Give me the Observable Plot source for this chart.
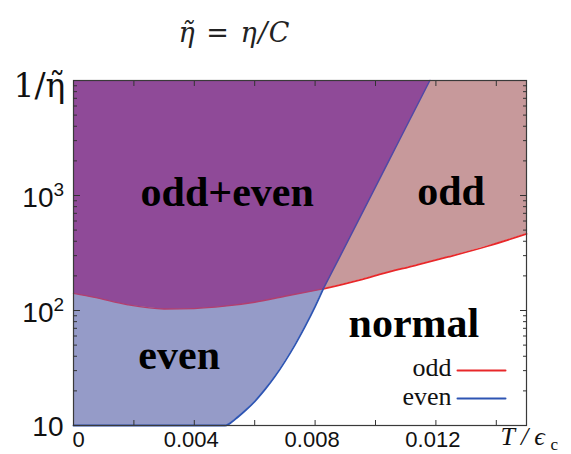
<!DOCTYPE html>
<html>
<head>
<meta charset="utf-8">
<script src="https://cdn.jsdelivr.net/npm/d3@7"></script>
<script src="https://cdn.jsdelivr.net/npm/@observablehq/plot@0.6"></script>
<style>
  html, body { margin: 0; padding: 0; background: #fff; }
  #chart svg { display: block; }
</style>
</head>
<body>
<div id="chart"></div>
<script>
// ---- data ----
const xDomain = [0, 0.015];
const yDomain = [10, 10000];

// odd boundary (red)
const redX = [0, 0.0007, 0.0018, 0.0030, 0.0040, 0.0050, 0.0060, 0.0070, 0.00827, 0.0095, 0.0102, 0.0113, 0.0124, 0.0137, 0.0150];
const redY = [141, 130, 112, 103, 104, 109, 118, 133, 154, 185, 208, 246, 292, 362, 464];

// even boundary (blue)
const blueX = [0, 0.00502, 0.00536, 0.00569, 0.00602, 0.00635, 0.00668, 0.00701, 0.00734, 0.00767, 0.0080, 0.00827, 0.00883, 0.00949, 0.01015, 0.01081, 0.0118];
const blueY = [10, 10, 11.4, 13.5, 16.4, 20.7, 26.9, 36.3, 50.5, 72.7, 108, 154, 297, 648, 1416, 3100, 10000];

// crossing point of both boundaries
const crossX = 0.00827;
const crossY = 154;

// region labels
const regionText = ["odd+even", "odd", "even", "normal"];
const regionX = [0.00509, 0.0125, 0.0035, 0.01127];
const regionY = [818, 835, 31.3, 58.7];

// ticks
const xTicks = [0, 0.002, 0.004, 0.006, 0.008, 0.010, 0.012, 0.014];
const xTickLabels = [0, 0.004, 0.008, 0.012];
const yMajor = [10, 100, 1000, 10000];
const yMinor = [20, 30, 40, 50, 60, 70, 80, 90, 200, 300, 400, 500, 600, 700, 800, 900, 2000, 3000, 4000, 5000, 6000, 7000, 8000, 9000];
const yLabelVals = [10, 100, 1000];
const yLabelExp = ["", "2", "3"];

// legend
const legendText = ["odd", "even"];

// texts
const titleText = "η\u0303 = η/C";
const yLabelText = "1/η\u0303";
const xLabelText = "T/ϵ";
const xLabelSub = "c";

// colors
const cPurple = "#8f4a98";
const cPink = "#c7999b";
const cBlue = "#959bc8";
const cRed = "#e8282a";
const cRedDim = "#b23f6e";
const cBlueLine = "#2e55b3";
const cBlueDim = "#5049a6";

// ---- build tables ----
const red = redX.map((x, i) => ({x, y: redY[i]}));
const blue = blueX.map((x, i) => ({x, y: blueY[i]}));
const purplePoly = [
  ...red.filter(d => d.x <= crossX),
  ...blue.filter(d => d.y >= crossY),
  {x: xDomain[0], y: yDomain[1]}
];
const regions = regionText.map((t, i) => ({t, x: regionX[i], y: regionY[i]}));
const yLab = yLabelVals.map((v, i) => ({v, e: yLabelExp[i]}));

const serif = "'Liberation Serif', 'Times New Roman', serif";
const dejavu = "'DejaVu Serif', serif";
const sans = "'Liberation Sans', Arial, sans-serif";
const lineShape = {draw(ctx, l) { ctx.moveTo(0, 0); ctx.lineTo(0, -l); }};
const curve = "monotone-x";

const chart = Plot.plot({
  width: 571,
  height: 454,
  marginLeft: 73,
  marginRight: 45,
  marginTop: 80,
  marginBottom: 29,
  x: {domain: xDomain, axis: null},
  y: {type: "log", domain: yDomain, axis: null},
  style: {background: "white", overflow: "visible", color: "#111"},
  marks: [
    // odd region (above red)
    Plot.areaY(red, {x: "x", y1: "y", y2: yDomain[1], fill: cPink, curve}),
    // even region (left of blue)
    Plot.areaY(blue, {x: "x", y1: "y", y2: yDomain[1], fill: cBlue, curve}),
    // overlap odd+even
    Plot.line(purplePoly, {x: "x", y: "y", fill: cPurple, stroke: "none"}),
    // boundaries
    Plot.line(red, {filter: d => d.x <= crossX, x: "x", y: "y", stroke: cRedDim, strokeWidth: 1.3, curve}),
    Plot.line(red, {filter: d => d.x >= crossX, x: "x", y: "y", stroke: cRed, strokeWidth: 1.8, curve}),
    Plot.line(blue, {filter: d => d.y <= crossY, x: "x", y: "y", stroke: cBlueLine, strokeWidth: 1.8, curve}),
    Plot.line(blue, {filter: d => d.y >= crossY, x: "x", y: "y", stroke: cBlueDim, strokeWidth: 1.5, curve}),
    // frame
    Plot.frame({stroke: "#3a3a3a", strokeWidth: 1.2}),
    Plot.axisY({anchor: "left", ticks: [], tickSize: 0, label: null}),
    // ticks (inward)
    Plot.axisX({anchor: "bottom", ticks: xTicks, tickSize: -5, tickFormat: () => "", label: null, stroke: "#333"}),
    Plot.axisX({anchor: "top", ticks: xTicks, tickSize: -5, tickFormat: () => "", label: null, stroke: "#333"}),
    Plot.axisY({anchor: "left", ticks: yMajor, tickSize: -7, tickFormat: () => "", label: null, stroke: "#333"}),
    Plot.axisY({anchor: "left", ticks: yMinor, tickSize: -4, tickFormat: () => "", label: null, stroke: "#333"}),
    Plot.axisY({anchor: "right", ticks: yMajor, tickSize: -7, tickFormat: () => "", label: null, stroke: "#333"}),
    Plot.axisY({anchor: "right", ticks: yMinor, tickSize: -4, tickFormat: () => "", label: null, stroke: "#333"}),
    // x tick labels
    Plot.axisX({anchor: "bottom", ticks: xTickLabels.filter(d => d !== 0), tickSize: 0, tickPadding: 6, dx: -3,
      tickFormat: d => d.toFixed(3), label: null,
      fontSize: 22, fontFamily: sans, fill: "#111"}),
    Plot.text(xTickLabels.filter(d => d === 0), {x: d => d, frameAnchor: "bottom", text: d => String(d),
      lineAnchor: "top", dx: 5, dy: 6, fontSize: 22, fontFamily: sans, fill: "#111"}),
    // y tick labels
    Plot.text(yLab, {filter: d => d.e, y: "v", text: () => "10", frameAnchor: "left", textAnchor: "end",
      dx: -20, dy: 3, fontSize: 28, fontFamily: sans, fill: "#111"}),
    Plot.text(yLab, {filter: d => d.e, y: "v", text: "e", frameAnchor: "left", textAnchor: "start",
      dx: -20, dy: -6, fontSize: 19, fontFamily: sans, fill: "#111"}),
    Plot.text(yLab, {filter: d => !d.e, y: "v", text: () => "10", frameAnchor: "left", textAnchor: "end",
      dx: -10, dy: 2, fontSize: 28, fontFamily: sans, fill: "#111"}),
    // region labels
    Plot.text(regions, {x: "x", y: "y", text: "t", lineAnchor: "bottom", fontSize: 42, fontWeight: "bold",
      fontFamily: serif, fill: "#000"}),
    // legend
    Plot.text([legendText.join("\n")], {frameAnchor: "bottom-right", text: d => d, textAnchor: "end",
      lineAnchor: "bottom", lineHeight: 1.08, dx: -75, dy: -21, fontSize: 26, fontFamily: serif, fill: "#111"}),
    Plot.vector([cRed], {frameAnchor: "bottom-right", dx: -69, dy: -55, length: 48, rotate: 90, anchor: "start",
      shape: lineShape, stroke: cRed, strokeWidth: 2}),
    Plot.vector([cBlueLine], {frameAnchor: "bottom-right", dx: -69, dy: -27, length: 48, rotate: 90, anchor: "start",
      shape: lineShape, stroke: cBlueLine, strokeWidth: 2}),
    // title
    Plot.text([titleText], {frameAnchor: "top-left", text: d => d, textAnchor: "start", lineAnchor: "bottom",
      dx: 105, dy: -39, fontSize: 27, fontStyle: "italic", fontFamily: dejavu, fill: "#222"}),
    // y axis label
    Plot.text([yLabelText], {frameAnchor: "top-left", text: d => d, textAnchor: "start", lineAnchor: "bottom",
      dx: -60, dy: 16, fontSize: 33, fontFamily: dejavu, fill: "#111"}),
    // x axis label
    Plot.text([xLabelText], {frameAnchor: "bottom-right", text: d => d, textAnchor: "start", lineAnchor: "bottom",
      dx: -26, dy: 19, fontSize: 26, fontStyle: "italic", fontFamily: serif, fill: "#111"}),
    Plot.text([xLabelSub], {frameAnchor: "bottom-right", text: d => d, textAnchor: "start", lineAnchor: "bottom",
      dx: 24, dy: 24, fontSize: 17, fontFamily: serif, fill: "#111"})
  ]
});
// letter spacing for the wide math-style labels
const spacing = {[titleText]: "1.5px", [xLabelText]: "6px"};
chart.querySelectorAll("text").forEach(t => {
  if (spacing[t.textContent]) t.style.letterSpacing = spacing[t.textContent];
});
document.getElementById("chart").appendChild(chart);
</script>
</body>
</html>
